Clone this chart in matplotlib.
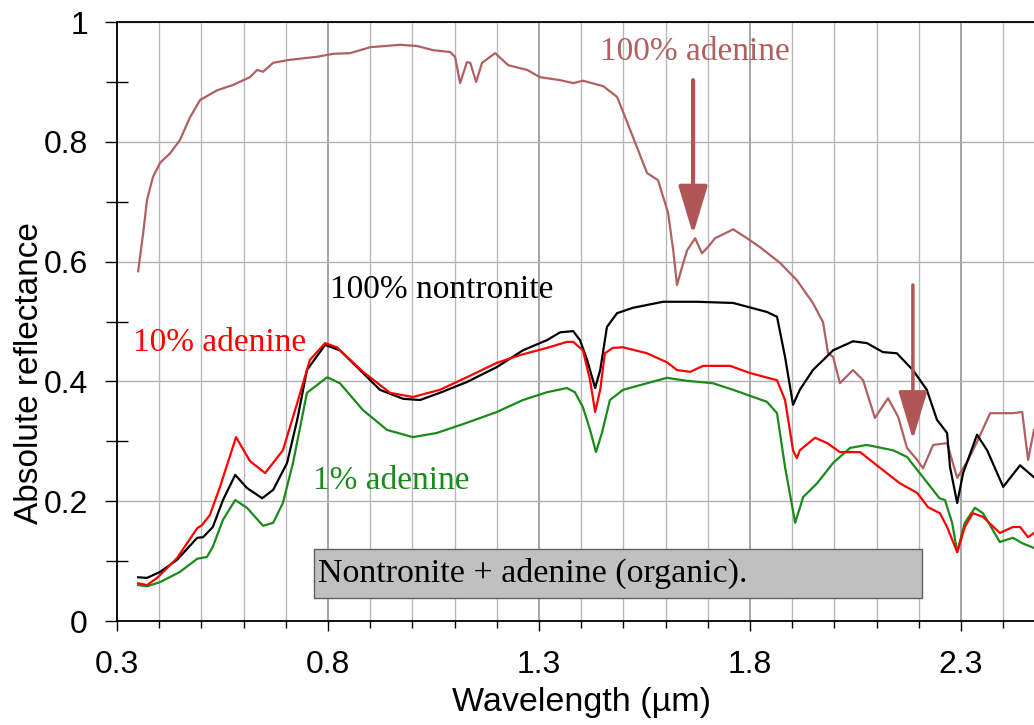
import numpy as np
import matplotlib.pyplot as plt
from matplotlib.ticker import MultipleLocator, FixedLocator, FormatStrFormatter
from matplotlib.patches import Rectangle

# 100% adenine (brown)
wl_ade = [0.350, 0.362, 0.371, 0.385, 0.402, 0.426, 0.449, 0.473, 0.497, 0.537,
          0.575, 0.615, 0.632, 0.646, 0.670, 0.710, 0.774, 0.812, 0.852, 0.900,
          0.971, 1.011, 1.049, 1.089, 1.101, 1.113, 1.129, 1.137, 1.151, 1.165,
          1.196, 1.227, 1.272, 1.302, 1.350, 1.381, 1.404, 1.452, 1.485, 1.516,
          1.556, 1.582, 1.606, 1.618, 1.627, 1.639, 1.651, 1.670, 1.686, 1.700,
          1.717, 1.746, 1.760, 1.793, 1.824, 1.871, 1.911, 1.949, 1.973, 1.985,
          1.997, 2.013, 2.044, 2.068, 2.096, 2.127, 2.151, 2.172, 2.196, 2.210,
          2.234, 2.267, 2.291, 2.317, 2.338, 2.369, 2.423, 2.445, 2.459, 2.473]
r_ade = [0.584, 0.648, 0.703, 0.741, 0.765, 0.781, 0.803, 0.841, 0.870, 0.886,
         0.895, 0.908, 0.920, 0.917, 0.932, 0.937, 0.942, 0.947, 0.948, 0.958,
         0.962, 0.960, 0.953, 0.950, 0.942, 0.898, 0.933, 0.932, 0.900, 0.932,
         0.948, 0.928, 0.920, 0.908, 0.903, 0.898, 0.902, 0.893, 0.875, 0.820,
         0.748, 0.736, 0.681, 0.619, 0.561, 0.591, 0.619, 0.639, 0.614, 0.624,
         0.639, 0.649, 0.654, 0.639, 0.624, 0.598, 0.569, 0.531, 0.499, 0.447,
         0.441, 0.397, 0.419, 0.402, 0.339, 0.372, 0.341, 0.289, 0.269, 0.255,
         0.294, 0.297, 0.239, 0.269, 0.299, 0.347, 0.347, 0.349, 0.269, 0.319]

# 100% nontronite (black)
wl_non = [0.350, 0.371, 0.402, 0.442, 0.490, 0.504, 0.527, 0.551, 0.580, 0.608,
          0.644, 0.670, 0.703, 0.727, 0.750, 0.793, 0.828, 0.883, 0.923, 0.978,
          1.018, 1.065, 1.129, 1.200, 1.262, 1.319, 1.350, 1.381, 1.397, 1.414,
          1.433, 1.445, 1.461, 1.485, 1.523, 1.594, 1.674, 1.760, 1.840, 1.864,
          1.883, 1.902, 1.918, 1.949, 1.997, 2.044, 2.077, 2.115, 2.148, 2.186,
          2.219, 2.243, 2.267, 2.274, 2.291, 2.305, 2.338, 2.362, 2.400, 2.440,
          2.473]
r_non = [0.073, 0.072, 0.082, 0.102, 0.139, 0.140, 0.157, 0.202, 0.244, 0.222,
         0.205, 0.219, 0.264, 0.336, 0.419, 0.461, 0.452, 0.414, 0.386, 0.371,
         0.369, 0.381, 0.399, 0.424, 0.452, 0.469, 0.482, 0.484, 0.469, 0.436,
         0.389, 0.419, 0.491, 0.514, 0.523, 0.533, 0.533, 0.531, 0.516, 0.508,
         0.441, 0.361, 0.386, 0.419, 0.452, 0.467, 0.464, 0.449, 0.447, 0.419,
         0.386, 0.336, 0.314, 0.257, 0.197, 0.247, 0.311, 0.285, 0.224, 0.260,
         0.240]

# 10% adenine (red)
wl_10 = [0.350, 0.371, 0.395, 0.442, 0.490, 0.501, 0.520, 0.544, 0.582, 0.615,
         0.651, 0.693, 0.727, 0.757, 0.793, 0.821, 0.883, 0.947, 1.001, 1.065,
         1.129, 1.200, 1.255, 1.319, 1.366, 1.381, 1.404, 1.421, 1.433, 1.445,
         1.456, 1.475, 1.499, 1.556, 1.603, 1.627, 1.658, 1.689, 1.753, 1.800,
         1.864, 1.883, 1.902, 1.911, 1.918, 1.954, 1.983, 2.013, 2.061, 2.115,
         2.155, 2.196, 2.222, 2.250, 2.267, 2.291, 2.309, 2.328, 2.352, 2.392,
         2.423, 2.440, 2.459, 2.473]
r_10 = [0.063, 0.060, 0.072, 0.105, 0.155, 0.160, 0.177, 0.224, 0.307, 0.267,
        0.247, 0.285, 0.364, 0.436, 0.464, 0.457, 0.416, 0.381, 0.374, 0.386,
        0.407, 0.431, 0.444, 0.456, 0.466, 0.466, 0.452, 0.402, 0.349, 0.386,
        0.447, 0.456, 0.457, 0.447, 0.432, 0.419, 0.416, 0.426, 0.426, 0.414,
        0.402, 0.369, 0.285, 0.272, 0.285, 0.306, 0.297, 0.282, 0.282, 0.252,
        0.230, 0.214, 0.190, 0.180, 0.157, 0.115, 0.157, 0.180, 0.174, 0.147,
        0.157, 0.157, 0.140, 0.147]

# 1% adenine (green)
wl_1 = [0.350, 0.371, 0.402, 0.449, 0.490, 0.513, 0.527, 0.551, 0.580, 0.608,
        0.646, 0.670, 0.693, 0.717, 0.750, 0.798, 0.828, 0.883, 0.940, 1.001,
        1.058, 1.129, 1.200, 1.262, 1.319, 1.366, 1.385, 1.404, 1.421, 1.435,
        1.449, 1.468, 1.499, 1.556, 1.603, 1.651, 1.712, 1.760, 1.840, 1.864,
        1.883, 1.907, 1.926, 1.959, 1.997, 2.037, 2.077, 2.139, 2.172, 2.210,
        2.249, 2.262, 2.279, 2.291, 2.309, 2.333, 2.352, 2.392, 2.423, 2.445,
        2.473]
r_1 = [0.060, 0.058, 0.065, 0.082, 0.104, 0.107, 0.124, 0.169, 0.202, 0.189,
       0.159, 0.164, 0.197, 0.264, 0.381, 0.407, 0.397, 0.352, 0.319, 0.307,
       0.314, 0.331, 0.349, 0.369, 0.382, 0.389, 0.382, 0.357, 0.319, 0.282,
       0.314, 0.369, 0.386, 0.397, 0.406, 0.401, 0.397, 0.386, 0.366, 0.347,
       0.257, 0.164, 0.207, 0.230, 0.264, 0.289, 0.294, 0.285, 0.274, 0.240,
       0.205, 0.202, 0.164, 0.115, 0.164, 0.189, 0.180, 0.132, 0.139, 0.130,
       0.122]

x_ticks = [0.3, 0.8, 1.3, 1.8, 2.3]
y_ticks = [0, 0.2, 0.4, 0.6, 0.8, 1.0]

brown = '#b06060'
arrow_col = '#b05656'
green = '#1a8a1a'

plt.rcParams['font.family'] = ['Liberation Sans', 'DejaVu Sans']
serif = ['Liberation Serif', 'DejaVu Serif']

fig = plt.figure(figsize=(10.34, 7.25), dpi=100)
ax = fig.add_axes([0.1132, 0.1434, 1 - 0.1132, 0.8262])

ax.plot(wl_ade, r_ade, color=brown, lw=1.6, zorder=3)
ax.plot(wl_non, r_non, color='black', lw=1.6, zorder=4)
ax.plot(wl_1, r_1, color=green, lw=1.6, zorder=5)
ax.plot(wl_10, r_10, color='red', lw=1.6, zorder=6)

ax.set_xlim(0.3, 2.473)
ax.set_ylim(0, 1.0)

ax.xaxis.set_major_locator(FixedLocator(x_ticks))
ax.xaxis.set_minor_locator(MultipleLocator(0.1))
ax.yaxis.set_major_locator(FixedLocator(y_ticks))
ax.yaxis.set_minor_locator(MultipleLocator(0.1))
ax.xaxis.set_major_formatter(FormatStrFormatter('%g'))
ax.yaxis.set_major_formatter(FormatStrFormatter('%g'))

ax.grid(which='major', axis='x', color='#8a8a8a', lw=1.1)
ax.grid(which='minor', axis='x', color='#b8b8b8', lw=1.0)
ax.grid(which='major', axis='y', color='#b0b0b0', lw=1.0)
ax.set_axisbelow(True)

ax.tick_params(axis='x', which='major', direction='out', length=7, width=1, labelsize=23, pad=14)
ax.tick_params(axis='x', which='minor', direction='out', length=5, width=1)
ax.tick_params(axis='y', which='major', direction='out', length=9, width=1, labelsize=23, pad=12)
ax.tick_params(axis='y', which='minor', direction='inout', length=16, width=1)

ax.spines['right'].set_visible(False)
for s in ['left', 'bottom', 'top']:
    ax.spines[s].set_linewidth(1.3)

ax.set_xlabel('Wavelength (µm)', fontsize=24.5)
ax.set_ylabel('Absolute reflectance', fontsize=24)
ax.xaxis.set_label_coords(0.506, -0.11)
ax.yaxis.set_label_coords(-0.079, 0.414)

ax.text(1.445, 0.950, '100% adenine', color=brown, fontsize=24, family=serif, va='center')
ax.text(0.805, 0.553, '100% nontronite', color='black', fontsize=24, family=serif, va='center')
ax.text(0.338, 0.464, '10% adenine', color='red', fontsize=24, family=serif, va='center')
ax.text(0.764, 0.235, '1% adenine', color=green, fontsize=24, family=serif, va='center')

ax.add_patch(Rectangle((0.767, 0.038), 2.208 - 0.767, 0.082,
                       facecolor='#c0c0c0', edgecolor='#606060', lw=1, zorder=7))
ax.text(0.776, 0.080, 'Nontronite + adenine (organic).', fontsize=24.5,
        family=serif, va='center', zorder=8)

arrow_style = '-|>,head_length=1.5,head_width=0.45'
ax.annotate('', xy=(1.665, 0.645), xytext=(1.665, 0.903),
            arrowprops=dict(arrowstyle=arrow_style, color=arrow_col, lw=3,
                            mutation_scale=20, shrinkA=0, shrinkB=0), zorder=9)
ax.annotate('', xy=(2.186, 0.303), xytext=(2.186, 0.561),
            arrowprops=dict(arrowstyle=arrow_style, color=arrow_col, lw=2.5,
                            mutation_scale=20, shrinkA=0, shrinkB=0), zorder=9)

plt.savefig('out.png', dpi=100)
